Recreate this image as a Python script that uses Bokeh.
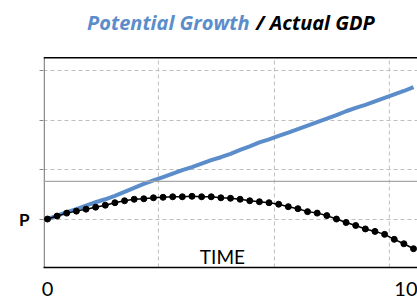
from bokeh.plotting import figure
from bokeh.models import Range1d, FixedTicker, Label, Span
from bokeh.embed import file_html
from bokeh.resources import INLINE
import numpy as np

# data
time = np.linspace(0, 10, 39)
potential = [0.00, 0.07, 0.14, 0.20, 0.27, 0.34, 0.40, 0.47, 0.55, 0.63, 0.71, 0.78, 0.85,
             0.92, 0.99, 1.05, 1.12, 1.19, 1.25, 1.32, 1.40, 1.47, 1.55, 1.61, 1.68, 1.75,
             1.82, 1.89, 1.96, 2.03, 2.10, 2.18, 2.25, 2.31, 2.38, 2.45, 2.52, 2.59, 2.67]
actual = [0.00, 0.06, 0.12, 0.16, 0.20, 0.24, 0.28, 0.33, 0.37, 0.40, 0.41, 0.43, 0.44,
          0.45, 0.45, 0.46, 0.45, 0.45, 0.43, 0.42, 0.40, 0.37, 0.35, 0.33, 0.30, 0.25,
          0.21, 0.15, 0.12, 0.07, 0.00, -0.07, -0.13, -0.20, -0.25, -0.31, -0.41, -0.50, -0.60]
x_tick_labels = {0: "0", 10: "10"}
y_tick_labels = {0: "P"}
grid_x = [3.03, 6.20, 9.34]
grid_y = [0, 1, 2, 3]
ref_level = 0.76

X0, X1 = -0.109, 10.109
Y0, YTOP = -0.98, 3.26      # plotting area
YCANVAS = 4.42              # extended to hold the title

p = figure(width=417, height=298, output_backend="svg", toolbar_location=None,
           x_range=Range1d(X0, X1), y_range=Range1d(Y0, YCANVAS),
           min_border_left=43, min_border_right=0, min_border_top=0, min_border_bottom=28)
p.outline_line_color = None
p.background_fill_color = "white"

# grid
p.xgrid.visible = False
p.ygrid.ticker = FixedTicker(ticks=grid_y)
p.ygrid.grid_line_color = "#bfbfbf"
p.ygrid.grid_line_dash = "4 3"
p.ygrid.grid_line_width = 1
p.segment(x0=grid_x, y0=[Y0] * len(grid_x), x1=grid_x, y1=[YTOP] * len(grid_x),
          line_color="#bfbfbf", line_dash="4 3", line_width=1)

# x axis
p.xaxis.ticker = FixedTicker(ticks=list(x_tick_labels.keys()))
p.xaxis.major_label_overrides = x_tick_labels
p.xaxis.axis_line_color = "black"
p.xaxis.axis_line_width = 1.5
p.xaxis.major_tick_line_color = None
p.xaxis.minor_tick_line_color = None
p.xaxis.major_label_text_font = "Lato"
p.xaxis.major_label_text_font_size = "20px"
p.xaxis.major_label_text_color = "black"
p.xaxis.major_label_standoff = 8

# y axis
p.yaxis.ticker = FixedTicker(ticks=grid_y)
p.yaxis.major_label_overrides = {t: y_tick_labels.get(t, "") for t in grid_y}
p.yaxis.axis_line_color = None
p.yaxis.major_tick_line_color = "#8c8c8c"
p.yaxis.major_tick_in = 0
p.yaxis.major_tick_out = 4
p.yaxis.minor_tick_line_color = None
p.yaxis.major_label_text_font = "Lato"
p.yaxis.major_label_text_font_style = "bold"
p.yaxis.major_label_text_font_size = "17px"
p.yaxis.major_label_text_color = "black"
p.yaxis.major_label_standoff = 10
p.segment(x0=[X0 + 0.02], y0=[Y0], x1=[X0 + 0.02], y1=[YTOP], line_color="#8c8c8c", line_width=1.5)

# top border
p.add_layout(Span(location=YTOP, dimension="width", line_color="black", line_width=1.5))
# reference solid line
p.add_layout(Span(location=ref_level, dimension="width", line_color="#a6a6a6", line_width=1.2))

# series
p.line(time, potential, line_color="#5B8DCB", line_width=4)
p.line(time, actual, line_color="black", line_width=1.5)
p.scatter(time, actual, size=6, fill_color="black", line_color="black")

# texts
p.add_layout(Label(x=4.78, y=-0.76, text="TIME", text_font="Lato", text_font_size="19px",
                   text_align="center", text_baseline="middle", text_color="black"))
p.add_layout(Label(x=5.52, y=3.98, text="Potential Growth", text_font="Open Sans",
                   text_font_style="bold italic", text_font_size="20px", text_color="#5B8DCB",
                   text_align="right", text_baseline="middle"))
p.add_layout(Label(x=5.70, y=3.98, text="/ Actual GDP", text_font="Open Sans",
                   text_font_style="bold italic", text_font_size="20px", text_color="black",
                   text_align="left", text_baseline="middle"))

open("out.html", "w").write(file_html(p, INLINE))
